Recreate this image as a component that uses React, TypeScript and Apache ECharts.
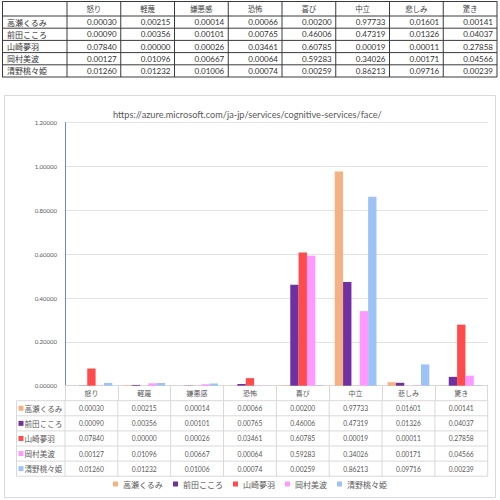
import React, { useEffect, useRef } from "react";
import * as echarts from "echarts";

const categories = ["怒り", "軽蔑", "嫌悪感", "恐怖", "喜び", "中立", "悲しみ", "驚き"];
const names = ["高瀬くるみ", "前田こころ", "山崎夢羽", "岡村美波", "清野桃々姫"];
const takase = [0.0003, 0.00215, 0.00014, 0.00066, 0.002, 0.97733, 0.01601, 0.00141];
const maeda = [0.0009, 0.00356, 0.00101, 0.00765, 0.46006, 0.47319, 0.01326, 0.04037];
const yamazaki = [0.0784, 0.0, 0.00026, 0.03461, 0.60785, 0.00019, 0.00011, 0.27858];
const okamura = [0.00127, 0.01096, 0.00667, 0.00064, 0.59283, 0.34026, 0.00171, 0.04566];
const kiyono = [0.0126, 0.01232, 0.01006, 0.00074, 0.00259, 0.86213, 0.09716, 0.00239];
const yTicks = [0, 0.2, 0.4, 0.6, 0.8, 1.0, 1.2];
const titleText = "https://azure.microsoft.com/ja-jp/services/cognitive-services/face/";

const seriesValues = [takase, maeda, yamazaki, okamura, kiyono];
const colors = ["#F4B183", "#7030A0", "#FF4B4B", "#FF99FF", "#9DC3F6"];

const numFont = "Lato, 'Noto Sans CJK JP', sans-serif";
const jpFont = "'Noto Sans CJK JP', sans-serif";
const fmt = (v: number) => v.toFixed(5);

// layout
const G_LEFT = 65;
const G_RIGHT_X = 487.7;
const G_TOP = 122.7;
const G_BOTTOM_Y = 385.7;

function buildGraphics() {
  const els: any[] = [];
  const line = (x1: number, y1: number, x2: number, y2: number, stroke: string) =>
    els.push({ type: "line", silent: true, shape: { x1, y1, x2, y2 }, style: { stroke, lineWidth: 1 } });
  const text = (t: string, x: number, y: number, align: string, size: number, family: string, fill: string) =>
    els.push({
      type: "text",
      silent: true,
      style: { text: t, x, y, align, verticalAlign: "middle", fontSize: size, fontFamily: family, fill },
    });

  // ---- top table ----
  const tLeft = 2;
  const tFirst = 67;
  const colW = (497 - tFirst) / categories.length;
  const tTop = 1;
  const headerBottom = 16;
  const rowH = (77 - headerBottom) / names.length;
  const tBottom = headerBottom + rowH * names.length;
  const tStroke = "#3a3a3a";
  line(tLeft, tTop + 0.5, 497, tTop + 0.5, tStroke);
  for (let r = 0; r <= names.length; r++) {
    const y = headerBottom + r * rowH;
    line(tLeft, y, 497, y, tStroke);
  }
  line(tLeft + 0.5, tTop, tLeft + 0.5, tBottom, tStroke);
  for (let c = 0; c <= categories.length; c++) {
    const x = tFirst + c * colW;
    line(x, tTop, x, tBottom, tStroke);
  }
  categories.forEach((cat, c) => {
    text(cat, tFirst + (c + 0.5) * colW, (tTop + headerBottom) / 2, "center", 7.5, jpFont, "#444");
  });
  names.forEach((nm, r) => {
    const cy = headerBottom + (r + 0.5) * rowH;
    text(nm, tLeft + 5, cy, "left", 8, jpFont, "#333");
    seriesValues[r].forEach((v, c) => {
      text(fmt(v), tFirst + (c + 1) * colW - 4, cy, "right", 8, numFont, "#333");
    });
  });

  // ---- chart box ----
  els.push({
    type: "rect",
    silent: true,
    z: -10,
    shape: { x: 4.5, y: 95.5, width: 491, height: 402 },
    style: { fill: "none", stroke: "#D9D9D9", lineWidth: 1 },
  });

  // ---- data table under chart ----
  const dLeft = 16.5;
  const dTop = 400.7;
  const dRowH = 15.1;
  const catW = (G_RIGHT_X - G_LEFT) / categories.length;
  const gStroke = "#D9D9D9";
  for (let r = 0; r <= names.length; r++) {
    const y = dTop + r * dRowH;
    line(dLeft, y, G_RIGHT_X, y, gStroke);
  }
  const dBottom = dTop + names.length * dRowH;
  line(dLeft, dTop, dLeft, dBottom, gStroke);
  for (let c = 0; c <= categories.length; c++) {
    const x = G_LEFT + c * catW;
    line(x, dTop, x, dBottom, gStroke);
  }
  names.forEach((nm, r) => {
    const cy = dTop + (r + 0.5) * dRowH;
    els.push({
      type: "rect",
      silent: true,
      shape: { x: 18.5, y: cy - 2.5, width: 5, height: 5 },
      style: { fill: colors[r] },
    });
    text(nm, 24.5, cy, "left", 7.6, jpFont, "#595959");
    seriesValues[r].forEach((v, c) => {
      text(fmt(v), G_LEFT + (c + 0.5) * catW, cy, "center", 6.7, numFont, "#595959");
    });
  });
  return els;
}

export default function App() {
  const ref = useRef<HTMLDivElement>(null);
  useEffect(() => {
    if (!ref.current) return;
    const chart = echarts.init(ref.current, null, { renderer: "svg" });
    chart.setOption({
      animation: false,
      backgroundColor: "#fff",
      color: colors,
      title: {
        text: titleText,
        left: 108,
        top: 105,
        textStyle: { fontSize: 9.2, fontWeight: "normal", color: "#595959", fontFamily: numFont },
      },
      legend: {
        data: names,
        bottom: 7,
        left: "center",
        icon: "rect",
        itemWidth: 5,
        itemHeight: 5,
        itemGap: 10,
        textStyle: { fontSize: 8, color: "#595959", fontFamily: jpFont },
      },
      grid: {
        left: G_LEFT,
        right: 500 - G_RIGHT_X,
        top: G_TOP,
        bottom: 500 - G_BOTTOM_Y,
      },
      xAxis: {
        type: "category",
        data: categories,
        axisLine: { show: true, lineStyle: { color: "#D9D9D9" } },
        axisTick: { show: true, interval: 0, length: 15, lineStyle: { color: "#D9D9D9" } },
        axisLabel: { interval: 0, margin: 4, fontSize: 7, color: "#595959", fontFamily: jpFont },
      },
      yAxis: {
        type: "value",
        min: yTicks[0],
        max: yTicks[yTicks.length - 1],
        interval: yTicks[1] - yTicks[0],
        axisLine: { show: true, lineStyle: { color: "#6B8BC8" } },
        axisTick: { show: false },
        axisLabel: {
          fontSize: 6,
          color: "#595959",
          fontFamily: numFont,
          margin: 8,
          formatter: (v: number) => fmt(v),
        },
        splitLine: { lineStyle: { color: "#E3E3E3" } },
      },
      series: names.map((nm, i) => ({
        name: nm,
        type: "bar",
        data: seriesValues[i],
        barGap: "0%",
        barCategoryGap: "21%",
        itemStyle: { color: colors[i] },
      })),
      graphic: { elements: buildGraphics() },
    });
    return () => chart.dispose();
  }, []);
  return (
    <div
      ref={ref}
      style={{ position: "absolute", left: 0, top: 0, width: 500, height: 500 }}
    />
  );
}
